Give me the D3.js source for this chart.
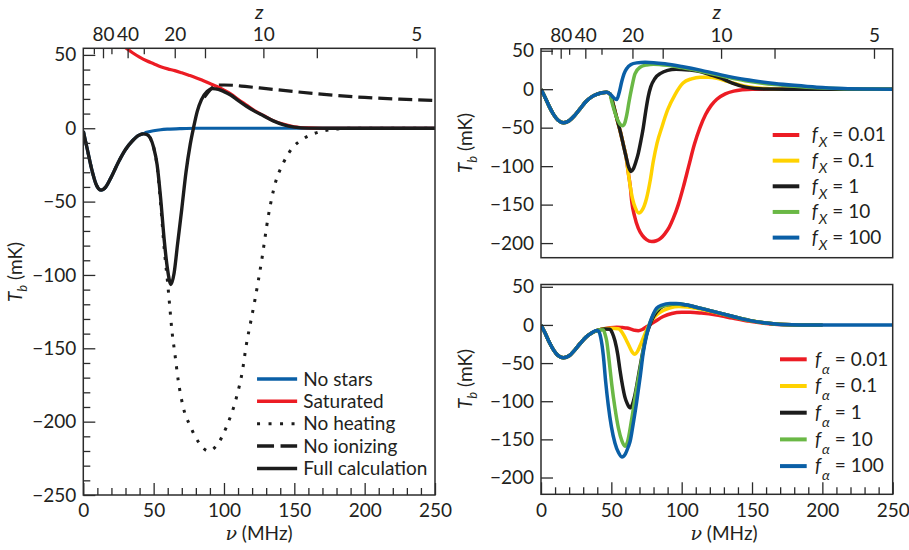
<!DOCTYPE html>
<html><head><meta charset="utf-8">
<script src="https://cdn.jsdelivr.net/npm/d3@7"></script>
<style>
body{margin:0;background:#fff}
svg{display:block}
text{font-family:Lato,"Open Sans",sans-serif;fill:#231f20}
</style></head>
<body><svg id="chart" width="909" height="550"></svg>
<script>
// ---------------- DATA (nu in MHz, T_b in mK) ----------------
// Left panel
const leftCommon = [[0,-2],[3,-15],[6,-28],[9,-38],[12.6,-42.2],[16,-40],[20,-33],[25,-23],[30,-14.5],[35,-8.5],[39,-5],[42.6,-3.8]];
const fullCalc = leftCommon.concat([[45,-4.2],[47.5,-6.5],[50,-13],[52.5,-25],[55,-48],[57.5,-76],[60,-97],[62.3,-106.5],[64.5,-99],[67,-79],[70,-55],[73,-30],[76,-11],[78.5,1],[81,11.5],[84,19.5],[88,25],[92,27],[96,26.5],[100,25],[105,22.5],[110,19],[116,15],[122,11.5],[128,8.5],[135,5],[142,2.5],[150,0.8],[160,0.1],[175,0],[250,0]]);
const noStars = leftCommon.concat([[45,-2.8],[50,-1.7],[55,-1],[60,-0.6],[70,-0.2],[80,0],[250,0]]);
const saturated = [[30,55],[35,51.5],[40,48.5],[45,46],[50,44],[55,42],[60,40.5],[65,39.3],[70,37.8],[75,36.2],[80,34.5],[85,32.5],[90,30.5],[95,28.5],[100,26],[105,23.3],[110,19.8],[116,15.8],[122,11.8],[128,8.8],[135,5.2],[142,2.8],[150,1],[160,0.2],[170,0],[250,0]];
const noHeating = leftCommon.concat([[45,-4.2],[47.5,-6.5],[50,-13],[52.5,-26],[55,-52],[57.5,-82],[60,-106],[61.5,-122],[63,-138],[65,-153],[67.5,-172],[71,-190],[76,-203],[82,-214],[89,-220],[95,-216],[102,-203],[109,-183],[113,-166],[116,-147],[119,-132],[122,-117],[126.8,-90],[131.5,-60],[136.3,-38],[142,-24],[149,-13],[155,-8],[161,-4.8],[173,-1.4],[190,0],[250,0]]);
const noIonizing = [[86,21],[90,26],[94,29.2],[100,29.5],[106.6,29.3],[115,28.5],[130,27],[150,25],[177.7,22.5],[200,21],[225,19.8],[250,19]];
const leftLabels = ["No stars","Saturated","No heating","No ionizing","Full calculation"];

// Right top panel (f_X)
const topCommon = [[0,0],[3,-11],[6,-23],[9,-33],[12,-40],[16,-43.5],[20,-41],[24,-34],[28,-25],[32,-16],[36,-10],[40,-6.5],[43.5,-4.5],[46.5,-4],[49,-6]];
const fx100 = topCommon.concat([[51,-10],[53.8,-13.5],[55.5,-5],[57.4,10],[59,20],[61,27],[64,32],[68,34.2],[74,35],[80,34.5],[88,33],[100,29.5],[114,24.5],[128,18.6],[145,12.5],[166,7.5],[180,5],[196,2.6],[215,1],[235,0.3],[250,0]]);
const fx10 = topCommon.concat([[50.3,-16],[52,-27],[54,-38],[56,-45],[58,-47.5],[59.5,-44],[61,-33],[62.5,-17],[64.5,2],[66.8,20],[70.4,28.5],[75,31.5],[80,32.5],[90,31],[100,28],[114,23],[128,17.5],[145,11],[166,6],[180,3.8],[196,1.8],[215,0.6],[250,0]]);
const fx1 = topCommon.concat([[50.5,-14],[52.5,-28],[54.5,-42],[56.5,-56],[58.5,-72],[60.5,-88],[62.3,-101],[64,-107],[65.5,-104],[67.5,-94],[69.2,-83],[71,-67],[72.7,-50],[74.5,-28],[76.3,-9],[78,3],[81,14],[85,20.5],[90,24.5],[96,26],[105,25],[113,23],[120,19],[128,14.3],[136,8],[144,3.4],[152,1],[160,0.2],[175,0],[250,0]]);
const fx01 = topCommon.concat([[50.5,-14],[52.5,-28],[54.5,-42],[56.5,-56],[58.5,-72],[60.5,-88],[62,-108],[63.5,-127],[65,-142],[67,-154],[69.5,-161],[72,-157],[75,-142],[77.5,-120],[79.8,-94],[82.5,-70],[85.8,-50],[90,-27],[95.3,-7],[101,8],[107,13.5],[113,15.6],[119,15.6],[125,14.3],[131,11],[137,7.8],[145,4],[155,1.5],[165,0.4],[180,0],[250,0]]);
const fx001 = topCommon.concat([[50.5,-14],[52.5,-28],[54.5,-42],[56.5,-56],[58.5,-72],[60.5,-88],[62,-108],[63.5,-127],[64.5,-146],[66.5,-165],[69.2,-181],[72,-190],[75,-195.5],[78.7,-198],[82,-197],[85,-194],[88,-188],[91,-180],[94,-168],[97.6,-150],[101.2,-127],[105,-100],[109,-72],[113,-50],[117,-33],[121,-21],[125,-13],[131,-6],[137,-2.5],[143,-0.8],[150,0],[250,0]]);
const fxLabels = ["0.01","0.1","1","10","100"];

// Right bottom panel (f_alpha)
const botCommon = [[0,0],[3,-11],[6,-23],[9,-33],[12,-40],[15.9,-43],[20,-40.5],[24,-33],[28,-24],[32,-16],[36,-10.5],[39.6,-7.4]];
const fa100 = botCommon.concat([[41,-8.5],[42.5,-17],[44.3,-40],[46,-75],[47.8,-105],[50,-133],[52.6,-155],[55,-167],[57.5,-173],[60,-169],[62,-160],[63.3,-153],[65.5,-130],[68,-101],[70.5,-68],[72.7,-36],[75,-14],[77.5,3],[80,15],[82.2,22],[86,26],[91.7,28],[96,28],[103,26.5],[113,22],[125,16.5],[136.7,11],[148,6],[160,2.6],[172,0.5],[185,0],[250,0]]);
const fa10 = botCommon.concat([[42,-6.2],[44.3,-6.5],[45.5,-12],[46.7,-21],[48.5,-48],[50.3,-78],[52.5,-108],[55,-135],[57.5,-152],[59.7,-159],[61.5,-153],[64.5,-123],[67.5,-88],[70.4,-58],[72.8,-32],[75.1,-10.4],[77.5,3],[80,14],[83,21],[88,25.5],[94,27.5],[100,27],[113,22],[125,16.5],[137,10.8],[148,6],[160,2.5],[172,0.5],[185,0],[200,0]]);
const fa1 = botCommon.concat([[42,-6.2],[45,-5.3],[49,-5.7],[50.8,-11],[52.6,-21],[54.5,-38],[56.2,-60],[58,-80],[59.7,-95],[61.5,-104],[63.3,-108.7],[65,-104],[66.5,-94],[68,-80],[70.4,-55],[72.7,-32],[75,-13],[77.5,0.5],[80,11],[84.6,22],[90,26.5],[96.4,27.5],[103,26],[113,22],[125,16.5],[137,10.8],[148,6],[160,2.5],[172,0.5],[185,0],[200,0]]);
const fa01 = botCommon.concat([[42,-6.2],[45,-5],[50,-4.5],[55,-5],[57,-8],[59,-14],[60.9,-21],[63,-29],[65,-36],[66.8,-38.5],[68.5,-35],[70.5,-27],[72.7,-17],[75,-7],[77.5,2.5],[80,9],[83,14.5],[86.9,19],[92,22.5],[98,24],[104,23.5],[113,21],[125,16],[137,10.5],[148,5.7],[160,2.5],[172,0.5],[185,0],[200,0]]);
const fa001 = botCommon.concat([[42,-6.2],[45,-5],[49,-3.8],[53.8,-3],[58,-3.5],[61,-4],[64,-5.5],[66.5,-7],[69.2,-7.5],[72,-6],[75,-2.5],[77.5,0.4],[81,4.5],[86.9,11],[93,15],[100,16.5],[106,16.5],[114,15.5],[124.8,13],[136,9],[148.5,4.7],[160,2],[170,0.5],[185,0],[200,0]]);
const faLabels = ["0.01","0.1","1","10","100"];

// Axis ticks
const nuTicks = [0,50,100,150,200,250];
const zLabels = ["80","40","20","10","5"];
const zLabelNu = [14,31.5,65,128,236.7];
const zMinorNu = [7.5,20,43];
const zMidNu = [86.5,166];
const leftYTicks = [-250,-200,-150,-100,-50,0,50];
const rightYTicks = [-200,-150,-100,-50,0,50];

// ---------------- DRAWING ----------------
const svg = d3.select("#chart");
const ink = "#2b2b2b";
const C = {blue:"#0a5fa6", red:"#ec1c24", yellow:"#ffd200", green:"#6ab845", black:"#1c1c1c"};

function makePanel(id, px0, px1, pyTop, pyBot, ydom){
  const x = d3.scaleLinear().domain([0,250]).range([px0,px1]);
  const y = d3.scaleLinear().domain(ydom).range([pyBot,pyTop]);
  svg.append("clipPath").attr("id",id).append("rect")
    .attr("x",px0).attr("y",pyTop).attr("width",px1-px0).attr("height",pyBot-pyTop);
  return {x,y,id,px0,px1,pyTop,pyBot};
}
function styleAxis(g){
  g.select(".domain").remove();
  g.selectAll("line").attr("stroke",ink).attr("stroke-width",1.3);
  g.selectAll("text").attr("font-family","Lato, sans-serif").attr("font-size",19).attr("fill","#231f20");
}
function frame(p){
  svg.append("rect").attr("x",p.px0).attr("y",p.pyTop).attr("width",p.px1-p.px0).attr("height",p.pyBot-p.pyTop)
    .attr("fill","none").attr("stroke",ink).attr("stroke-width",1.5);
}
function bottomAxis(p, labels){
  svg.append("g").attr("transform",`translate(0,${p.pyBot})`)
    .call(d3.axisBottom(p.x).tickValues(d3.range(0,251,10).filter(v=>v%50!==0)).tickSize(-7).tickFormat(""))
    .call(styleAxis);
  svg.append("g").attr("transform",`translate(0,${p.pyBot})`)
    .call(d3.axisBottom(p.x).tickValues(nuTicks).tickSize(-12).tickPadding(9).tickFormat(labels?d3.format("d"):""))
    .call(styleAxis);
}
function topZAxis(p){
  svg.append("g").attr("transform",`translate(0,${p.pyTop})`)
    .call(d3.axisTop(p.x).tickValues(zMinorNu).tickSize(-6).tickFormat("")).call(styleAxis);
  svg.append("g").attr("transform",`translate(0,${p.pyTop})`)
    .call(d3.axisTop(p.x).tickValues(zMidNu).tickSize(-10).tickFormat("")).call(styleAxis);
  svg.append("g").attr("transform",`translate(0,${p.pyTop})`)
    .call(d3.axisTop(p.x).tickValues(zLabelNu).tickSize(-10).tickPadding(7).tickFormat((d,i)=>zLabels[i]))
    .call(styleAxis);
  svg.append("text").attr("x",(p.px0+p.px1)/2).attr("y",19).attr("text-anchor","middle")
    .attr("font-size",20).attr("font-style","italic").text("z");
}
function leftAxis(p, ticks, minor){
  if(minor){
    svg.append("g").attr("transform",`translate(${p.px0},0)`)
      .call(d3.axisLeft(p.y).tickValues(d3.range(-250,51,10).filter(v=>v%50!==0)).tickSize(-7).tickFormat(""))
      .call(styleAxis);
  }
  svg.append("g").attr("transform",`translate(${p.px0},0)`)
    .call(d3.axisLeft(p.y).tickValues(ticks).tickSize(-12).tickPadding(7).tickFormat(d3.format("d")))
    .call(styleAxis);
}
function yTitle(cx, cy){
  const t = svg.append("text").attr("transform",`translate(${cx},${cy}) rotate(-90)`)
    .attr("text-anchor","middle").attr("font-size",19);
  t.append("tspan").attr("font-style","italic").text("T");
  t.append("tspan").attr("font-style","italic").attr("font-size",13).attr("dy",5).text("b");
  t.append("tspan").attr("dy",-5).text(" (mK)");
}
function xTitle(cx){
  const t = svg.append("text").attr("x",cx).attr("y",540).attr("text-anchor","middle").attr("font-size",19);
  t.append("tspan").attr("font-family","'DejaVu Serif',serif").attr("font-style","italic").text("ν");
  t.append("tspan").text(" (MHz)");
}
function drawLine(p, data, color, width, dash){
  const line = d3.line().x(d=>p.x(d[0])).y(d=>p.y(d[1])).curve(d3.curveMonotoneX);
  const path = svg.append("path").datum(data).attr("clip-path",`url(#${p.id})`)
    .attr("d",line).attr("fill","none").attr("stroke",color).attr("stroke-width",width)
    .attr("stroke-linejoin","round");
  if(dash) path.attr("stroke-dasharray",dash);
  return path;
}

// ---- Left panel ----
const L = makePanel("clipL",83.3,435,48.3,495,[-250,54.5]);
drawLine(L, noHeating, C.black, 3, "3,8");
drawLine(L, noIonizing, C.black, 3.2, "14,6");
drawLine(L, noStars, C.blue, 3.2);
drawLine(L, saturated, C.red, 3.2);
drawLine(L, fullCalc, C.black, 3.4);
frame(L);
bottomAxis(L,true);
topZAxis(L);
leftAxis(L,leftYTicks,true);
yTitle(22,272);
xTitle(259);

const leftStyles = [
  {c:C.blue,d:null,w:3.5},{c:C.red,d:null,w:3.5},{c:C.black,d:"3,8.5",w:3},{c:C.black,d:"17,6.5",w:3.5},{c:C.black,d:null,w:3.5}];
const legL = svg.append("g");
leftLabels.forEach((lab,i)=>{
  const yy = 379 + i*22.35;
  legL.append("line").attr("x1",L.x(123.5)).attr("x2",L.x(152)).attr("y1",yy).attr("y2",yy)
    .attr("stroke",leftStyles[i].c).attr("stroke-width",leftStyles[i].w)
    .attr("stroke-dasharray",leftStyles[i].d);
  legL.append("text").attr("x",303.3).attr("y",yy).attr("dy","0.35em").attr("font-size",19).text(lab);
});

// ---- Right top panel ----
const RT = makePanel("clipRT",541,892.7,48.8,257.7,[-219,52.5]);
const fxSeries = [fx001,fx01,fx1,fx10,fx100];
const seriesColors = [C.red,C.yellow,C.black,C.green,C.blue];
fxSeries.forEach((s,i)=>drawLine(RT,s,seriesColors[i],3.5));
frame(RT);
topZAxis(RT);
leftAxis(RT,rightYTicks,false);
yTitle(472,143);

function legendRight(p, labels, sub, subDy, lx1, lx2, tx, y0, step){
  labels.forEach((lab,i)=>{
    const yy = y0 + i*step;
    svg.append("line").attr("x1",lx1).attr("x2",lx2).attr("y1",yy).attr("y2",yy)
      .attr("stroke",seriesColors[i]).attr("stroke-width",4);
    const t = svg.append("text").attr("x",tx).attr("y",yy).attr("dy","0.33em").attr("font-size",19);
    t.append("tspan").attr("font-style","italic").text("f");
    t.append("tspan").attr("font-style","italic").attr("font-size",14).attr("dy",subDy).attr("dx",1).text(sub);
    t.append("tspan").attr("dy",-subDy).attr("dx",5).text("= " + lab);
  });
}
legendRight(RT, fxLabels, "X", 6, 772.7, 799.3, 811.7, 135, 25.65);

// ---- Right bottom panel ----
const RB = makePanel("clipRB",541,892.7,284.5,494.3,[-222,53]);
const faSeries = [fa001,fa01,fa1,fa10,fa100];
faSeries.forEach((s,i)=>drawLine(RB,s,seriesColors[i],3.5));
frame(RB);
bottomAxis(RB,true);
leftAxis(RB,rightYTicks,false);
yTitle(472,379);
xTitle(724);
legendRight(RB, faLabels, "α", 8, 780, 806.7, 815, 359.3, 26.7);
</script></body></html>
